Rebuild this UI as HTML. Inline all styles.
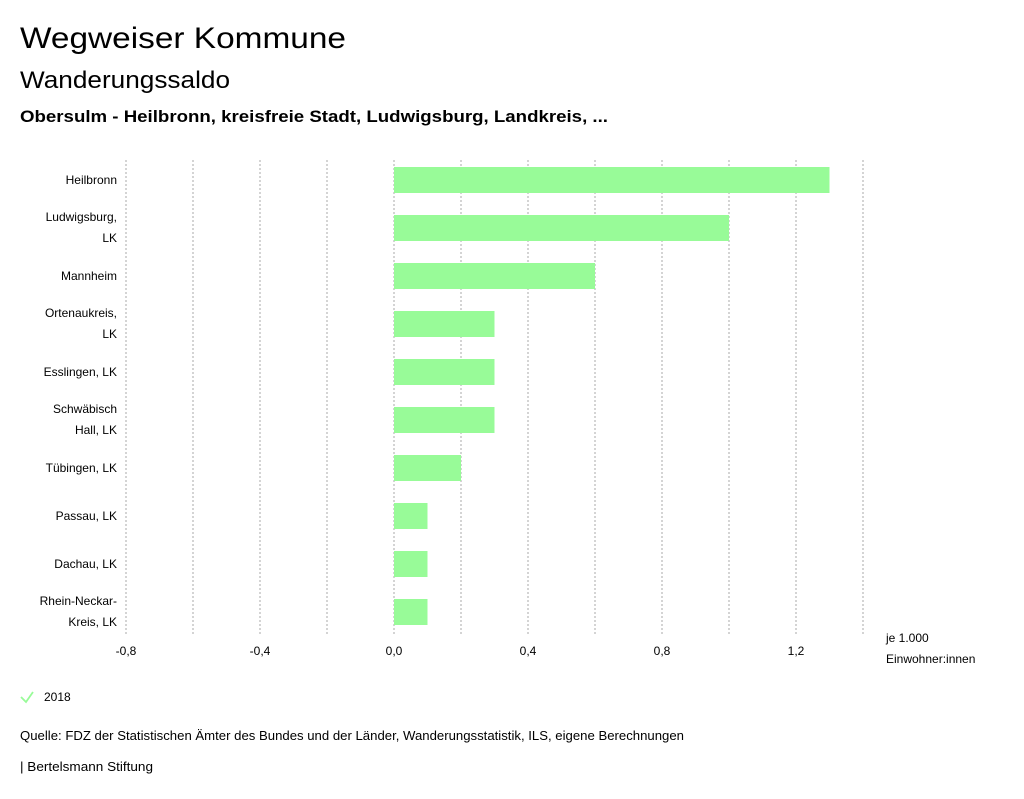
<!DOCTYPE html>
<html><head><meta charset="utf-8"><style>
body{margin:0;background:#fff;}
svg{display:block;font-family:"Liberation Sans",sans-serif;}
</style></head><body>
<svg id="chart" width="1024" height="799">
<text x="20" y="48" font-size="30" fill="#000" textLength="326" lengthAdjust="spacingAndGlyphs">Wegweiser Kommune</text>
<text x="20" y="88" font-size="24" fill="#000" textLength="210" lengthAdjust="spacingAndGlyphs">Wanderungssaldo</text>
<text x="20" y="122" font-size="17" font-weight="bold" fill="#000" textLength="588" lengthAdjust="spacingAndGlyphs">Obersulm - Heilbronn, kreisfreie Stadt, Ludwigsburg, Landkreis, ...</text>
<g id="grid"></g><g id="bars"></g><g id="ylabels"></g><g id="xlabels"></g>
<text x="886" y="642" font-size="12" fill="#000">je 1.000</text>
<text x="886" y="663" font-size="12" fill="#000">Einwohner:innen</text>
<g>
<path d="M21 697 L26 702 L33 692" stroke="#98fb98" stroke-width="1.8" fill="none"/>
<text x="44" y="701" font-size="12" fill="#000">2018</text>
</g>
<text x="20" y="740" font-size="12.5" fill="#000" textLength="664" lengthAdjust="spacingAndGlyphs">Quelle: FDZ der Statistischen Ämter des Bundes und der Länder, Wanderungsstatistik, ILS, eigene Berechnungen</text>
<text x="20" y="771" font-size="12.5" fill="#000" textLength="133" lengthAdjust="spacingAndGlyphs">| Bertelsmann Stiftung</text>
</svg>
<script>
const categories=[["Heilbronn"],["Ludwigsburg,","LK"],["Mannheim"],["Ortenaukreis,","LK"],["Esslingen, LK"],["Schwäbisch","Hall, LK"],["Tübingen, LK"],["Passau, LK"],["Dachau, LK"],["Rhein-Neckar-","Kreis, LK"]];
const values=[1.3,1.0,0.6,0.3,0.3,0.3,0.2,0.1,0.1,0.1];
const gridValues=[-0.8,-0.6,-0.4,-0.2,0,0.2,0.4,0.6,0.8,1.0,1.2,1.4];
const tickValues=[-0.8,-0.4,0,0.4,0.8,1.2];
const tickLabels=["-0,8","-0,4","0,0","0,4","0,8","1,2"];
const NS="http://www.w3.org/2000/svg";
const x=v=>394+v*335;
const top0=156,step=48;
const y=i=>top0+i*step;
function mk(t,a,p){const e=document.createElementNS(NS,t);for(const k in a)e.setAttribute(k,a[k]);p.appendChild(e);return e;}
const G=document.getElementById('grid'),B=document.getElementById('bars'),YL=document.getElementById('ylabels'),XL=document.getElementById('xlabels');
gridValues.forEach(v=>{const l=mk('line',{x1:x(v),x2:x(v),y1:160,y2:636,stroke:'#aaa','stroke-width':1,'stroke-dasharray':'2,2'},G);

});
values.forEach((v,i)=>{const r=mk('rect',{x:Math.min(x(0),x(v)),y:y(i)+11,width:Math.abs(x(v)-x(0)),height:26,fill:'#98fb98'},B);


const lines=categories[i];const t=mk('text',{'font-size':12,'text-anchor':'end',fill:'#000'},YL);


lines.forEach((s,j)=>{const ts=mk('tspan',{x:117,y:lines.length===1?y(i)+28:y(i)+17+j*21},t);ts.textContent=s;});});
tickValues.forEach((v,i)=>{const t=mk('text',{x:x(v),y:655,'font-size':12,'text-anchor':'middle',fill:'#000'},XL);t.textContent=tickLabels[i];

});
</script>
</body></html>
